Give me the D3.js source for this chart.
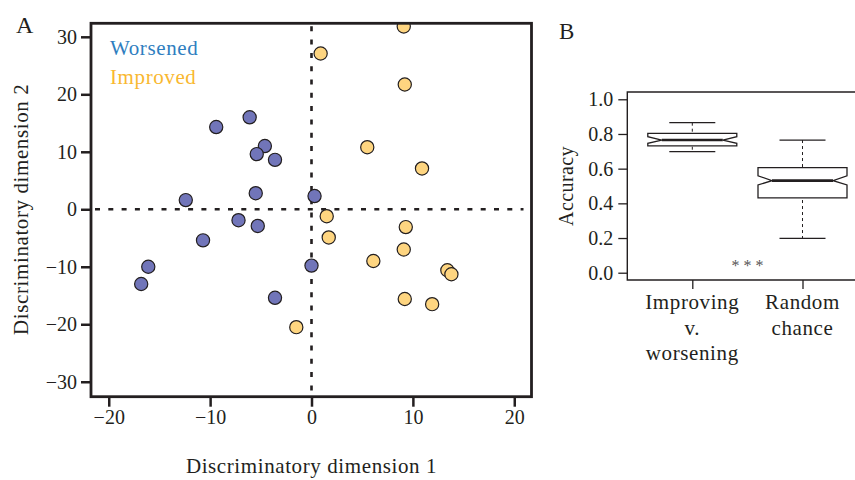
<!DOCTYPE html>
<html>
<head>
<meta charset="utf-8">
<script src="https://cdn.jsdelivr.net/npm/d3@7"></script>
<style>
	body { margin: 0; background: #fff; }
	svg { display: block; font-family: 'Liberation Serif', 'Times New Roman', serif; }
	.axis path, .axis line { stroke: #231f20; }
	.axis text { fill: #231f20; font-size: 20px; font-family: 'Liberation Serif', serif; }
</style>
</head>
<body>
<div id="chart"></div>
<script>
'use strict';

// PANEL A DATA
var worsenedX = [-9.4, -6.1, -4.6, -5.4, -3.6, -5.5, -12.4, -7.2, -5.3, 0.3, -10.7, -16.1, -16.8, 0.0, -3.6];
var worsenedY = [14.3, 16.0, 11.0, 9.6, 8.6, 2.8, 1.6, -1.9, -2.9, 2.3, -5.4, -10.0, -13.0, -9.8, -15.4];
var improvedX = [9.1, 0.9, 9.2, 5.5, 10.9, 1.5, 9.3, 1.7, 9.1, 6.1, 13.4, 13.8, 9.2, 11.9, -1.5];
var improvedY = [31.8, 27.1, 21.7, 10.8, 7.1, -1.2, -3.1, -4.9, -7.0, -9.0, -10.6, -11.3, -15.6, -16.5, -20.5];
var xTicks = [-20, -10, 0, 10, 20];
var yTicks = [-30, -20, -10, 0, 10, 20, 30];
var legendLabels = ['Worsened', 'Improved'];

// PANEL B DATA
var groupNames = ['Improving v. worsening', 'Random chance'];
var groupLabelLines = [['Improving', 'v.', 'worsening'], ['Random', 'chance']];
var whiskerLow = [0.698, 0.198];
var quartileLow = [0.731, 0.432];
var medians = [0.765, 0.531];
var quartileHigh = [0.803, 0.606];
var whiskerHigh = [0.865, 0.765];
var notchLow = [0.746, 0.506];
var notchHigh = [0.784, 0.559];
var accuracyTicks = [0, 0.2, 0.4, 0.6, 0.8, 1.0];
var significance = '* * *';

var ink = '#231f20';
var blueFill = '#7175b9';
var yellowFill = '#fed580';

var svg = d3.select('#chart')
	.append('svg')
	.attr('width', 855)
	.attr('height', 480)
	.attr('xmlns', 'http://www.w3.org/2000/svg');

// ===== PANEL A =====
var x = d3.scaleLinear().domain([-21.75, 21.7]).range([91, 531.5]);
var y = d3.scaleLinear().domain([-32.6, 32.35]).range([396.7, 23.3]);

var panelA = svg.append('g').attr('class', 'panel-a');

svg.append('clipPath')
	.attr('id', 'plot-a-clip')
	.append('rect')
	.attr('x', x.range()[0])
	.attr('y', y.range()[1])
	.attr('width', x.range()[1] - x.range()[0])
	.attr('height', y.range()[0] - y.range()[1]);

// axes
panelA.append('g')
	.attr('class', 'axis')
	.attr('transform', 'translate(0,' + y.range()[0] + ')')
	.call(d3.axisBottom(x).tickValues(xTicks).tickSize(10).tickPadding(3).tickFormat(d3.format('d')))
	.call(function(g) { g.select('.domain').remove(); })
	.selectAll('line').attr('stroke-width', 2.5);

panelA.append('g')
	.attr('class', 'axis')
	.attr('transform', 'translate(' + x.range()[0] + ',0)')
	.call(d3.axisLeft(y).tickValues(yTicks).tickSize(10).tickPadding(4).tickFormat(d3.format('d')))
	.call(function(g) { g.select('.domain').remove(); })
	.selectAll('line').attr('stroke-width', 2.5);

// zero lines
panelA.append('line')
	.attr('x1', x.range()[0] + 4)
	.attr('x2', x.range()[1] - 8)
	.attr('y1', y(0))
	.attr('y2', y(0))
	.attr('stroke', ink)
	.attr('stroke-width', 2.6)
	.attr('stroke-dasharray', '5,8.3');

panelA.append('line')
	.attr('x1', x(0))
	.attr('x2', x(0))
	.attr('y1', y.range()[1] + 3)
	.attr('y2', y.range()[0] - 3)
	.attr('stroke', ink)
	.attr('stroke-width', 2.6)
	.attr('stroke-dasharray', '5,8.3');

// points
var pointSets = [
	{ xs: worsenedX, ys: worsenedY, fill: blueFill },
	{ xs: improvedX, ys: improvedY, fill: yellowFill }
];

pointSets.forEach(function(set) {
	panelA.append('g')
		.attr('clip-path', 'url(#plot-a-clip)')
		.selectAll('circle')
		.data(set.xs.map(function(d, i) { return [d, set.ys[i]]; }))
		.enter()
		.append('circle')
		.attr('cx', function(d) { return x(d[0]); })
		.attr('cy', function(d) { return y(d[1]); })
		.attr('r', 6.6)
		.attr('fill', set.fill)
		.attr('stroke', ink)
		.attr('stroke-width', 1.2);
});

// frame
panelA.append('rect')
	.attr('x', x.range()[0])
	.attr('y', y.range()[1])
	.attr('width', x.range()[1] - x.range()[0])
	.attr('height', y.range()[0] - y.range()[1])
	.attr('fill', 'none')
	.attr('stroke', ink)
	.attr('stroke-width', 2.8);

// legend
panelA.selectAll('text.legend')
	.data(legendLabels).enter()
	.append('text')
	.attr('class', 'legend')
	.attr('x', 110)
	.attr('y', function(d, i) { return 55 + i * 28.5; })
	.attr('fill', function(d, i) { return i === 0 ? '#2f7ec0' : '#f9b830'; })
	.attr('font-size', 21)
	.attr('letter-spacing', 0.6)
	.text(function(d) { return d; });

// titles
panelA.append('text')
	.attr('x', 16)
	.attr('y', 33)
	.attr('font-size', 24)
	.attr('fill', ink)
	.text('A');

panelA.append('text')
	.attr('x', x(0))
	.attr('y', 473)
	.attr('text-anchor', 'middle')
	.attr('font-size', 21)
	.attr('letter-spacing', 0.6)
	.attr('fill', ink)
	.text('Discriminatory dimension 1');

panelA.append('text')
	.attr('transform', 'translate(28,' + y(0) + ') rotate(-90)')
	.attr('text-anchor', 'middle')
	.attr('font-size', 21)
	.attr('letter-spacing', 0.6)
	.attr('fill', ink)
	.text('Discriminatory dimension 2');

// ===== PANEL B =====
var xb = d3.scalePoint().domain(groupNames).range([692.3, 802.5]);
var yb = d3.scaleLinear().domain([-0.042, 1.042]).range([280, 92]);
var boxHalf = 44.5;
var capHalf = 23;
var notchInset = 14;

var panelB = svg.append('g').attr('class', 'panel-b');

panelB.append('g')
	.attr('class', 'axis')
	.attr('transform', 'translate(627.3,0)')
	.call(d3.axisLeft(yb).tickValues(accuracyTicks).tickSize(9).tickPadding(5).tickFormat(d3.format('.1f')))
	.call(function(g) { g.select('.domain').remove(); })
	.selectAll('line').attr('stroke-width', 1.3);

panelB.append('g')
	.attr('class', 'axis')
	.attr('transform', 'translate(0,280)')
	.call(d3.axisBottom(xb).tickSize(9).tickFormat(''))
	.call(function(g) { g.select('.domain').remove(); })
	.selectAll('line').attr('stroke-width', 1.3);

// open frame: left, top, bottom
panelB.append('path')
	.attr('d', 'M855,92H627.3V280H855')
	.attr('fill', 'none')
	.attr('stroke', ink)
	.attr('stroke-width', 1.4);

// boxes
var boxes = panelB.selectAll('g.box')
	.data(groupNames).enter()
	.append('g')
	.attr('class', 'box');

boxes.append('line')
	.attr('x1', function(d) { return xb(d); })
	.attr('x2', function(d) { return xb(d); })
	.attr('y1', function(d, i) { return yb(whiskerHigh[i]); })
	.attr('y2', function(d, i) { return yb(whiskerLow[i]); })
	.attr('stroke', ink)
	.attr('stroke-width', 1)
	.attr('stroke-dasharray', '3,3');

boxes.selectAll('line.cap')
	.data(function(d, i) { return [[d, whiskerHigh[i]], [d, whiskerLow[i]]]; }).enter()
	.append('line')
	.attr('class', 'cap')
	.attr('x1', function(d) { return xb(d[0]) - capHalf; })
	.attr('x2', function(d) { return xb(d[0]) + capHalf; })
	.attr('y1', function(d) { return yb(d[1]); })
	.attr('y2', function(d) { return yb(d[1]); })
	.attr('stroke', ink)
	.attr('stroke-width', 1.3);

boxes.append('path')
	.attr('d', function(d, i) {
		var l = xb(d) - boxHalf;
		var r = xb(d) + boxHalf;
		var p = d3.path();
		p.moveTo(l, yb(quartileHigh[i]));
		p.lineTo(r, yb(quartileHigh[i]));
		p.lineTo(r, yb(notchHigh[i]));
		p.lineTo(r - notchInset, yb(medians[i]));
		p.lineTo(r, yb(notchLow[i]));
		p.lineTo(r, yb(quartileLow[i]));
		p.lineTo(l, yb(quartileLow[i]));
		p.lineTo(l, yb(notchLow[i]));
		p.lineTo(l + notchInset, yb(medians[i]));
		p.lineTo(l, yb(notchHigh[i]));
		p.closePath();
		return p.toString();
	})
	.attr('fill', '#fff')
	.attr('stroke', ink)
	.attr('stroke-width', 1.3);

boxes.append('line')
	.attr('x1', function(d) { return xb(d) - boxHalf + notchInset; })
	.attr('x2', function(d) { return xb(d) + boxHalf - notchInset; })
	.attr('y1', function(d, i) { return yb(medians[i]); })
	.attr('y2', function(d, i) { return yb(medians[i]); })
	.attr('stroke', ink)
	.attr('stroke-width', 2.6);

// category labels
boxes.selectAll('text')
	.data(function(d, i) { return groupLabelLines[i].map(function(t) { return [d, t]; }); }).enter()
	.append('text')
	.attr('x', function(d) { return xb(d[0]); })
	.attr('y', function(d, j) { return 309 + j * 25.5; })
	.attr('text-anchor', 'middle')
	.attr('font-size', 21)
	.attr('letter-spacing', 0.6)
	.attr('fill', ink)
	.text(function(d) { return d[1]; });

panelB.append('text')
	.attr('x', 747.5)
	.attr('y', 271)
	.attr('text-anchor', 'middle')
	.attr('font-size', 16)
	.attr('fill', '#555')
	.text(significance);

panelB.append('text')
	.attr('x', 559)
	.attr('y', 39)
	.attr('font-size', 23)
	.attr('fill', ink)
	.text('B');

panelB.append('text')
	.attr('transform', 'translate(573,186) rotate(-90)')
	.attr('text-anchor', 'middle')
	.attr('font-size', 20)
	.attr('letter-spacing', 0.4)
	.attr('fill', ink)
	.text('Accuracy');
</script>
</body>
</html>
